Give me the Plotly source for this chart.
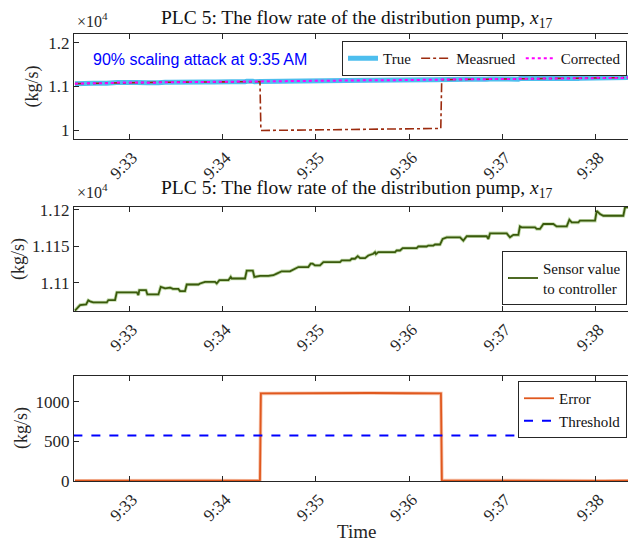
import pandas as pd
import plotly.graph_objects as go

# The page body has an 8px default margin, so the figure starts at screen (8, 8).
OFF = 8
FW, FH = 640, 534
BASE = pd.Timestamp("2021-01-01 09:32:00")

# ---- data (seconds after 9:32:00, values in kg/s) ----
sensor_t = [25, 26.6, 28.3, 32.2, 33.6, 35.2, 36.8, 45.5, 46.5, 50.8, 51.9, 64.8, 65.8, 66.4, 70.7,
            71.6, 78.7, 80.2, 83.0, 86.2, 88.0, 91.5, 92.6, 95.8, 96.9, 104.4, 105.5, 108.7, 115.1,
            116.2, 117.9, 123.7, 125.2, 125.8, 134.4, 135.5, 139.4, 140.4, 144.1, 149.4, 152.6,
            154.8, 158.0, 163.3, 165.5, 168.7, 175.1, 176.6, 177.9, 179.4, 182.6, 184.8, 195.5,
            196.6, 201.9, 203.0, 205.1, 206.9, 208.4, 211.6, 213.7, 216.9, 218.0, 218.6, 220.1,
            230.9, 231.9, 234.1, 235.8, 244.8, 245.9, 251.2, 252.3, 255.5, 256.6, 259.8, 261.5,
            264.1, 272.7, 274.8, 277.0, 289.8, 290.9, 292.0, 302.7, 304.8, 307.0, 310.2, 311.2,
            312.3, 320.9, 322.0, 324.1, 326.3, 332.7, 334.8, 341.3, 343.0, 344.5, 348.8, 349.8,
            359.5, 360.6, 362.7, 364.8, 377.7, 378.8, 387.0]
sensor_v = [11062, 11065.2, 11069.7, 11070.6, 11076.1, 11074.2, 11073.3, 11073.3, 11076.5, 11076.5,
            11087.0, 11087.0, 11083.3, 11090.1, 11090.1, 11084.2, 11084.2, 11094.6, 11092.5,
            11093.5, 11091.8, 11091.8, 11088.7, 11088.7, 11097.8, 11097.8, 11099.2, 11101.4,
            11101.4, 11099.2, 11103.7, 11103.7, 11108.2, 11106.0, 11106.0, 11116.8, 11116.8,
            11108.2, 11109.5, 11109.5, 11110.5, 11112.7, 11115.9, 11115.9, 11118.6, 11121.7,
            11121.7, 11126.3, 11126.3, 11124.0, 11124.0, 11128.5, 11128.5, 11130.8, 11130.8,
            11133.1, 11133.1, 11136.7, 11134.0, 11134.0, 11137.6, 11139.9, 11142.1, 11139.4,
            11142.1, 11142.1, 11144.4, 11144.4, 11147.6, 11147.6, 11149.9, 11149.9, 11151.2,
            11151.2, 11152.6, 11152.6, 11160.3, 11162.5, 11162.5, 11158.0, 11163.9, 11163.9,
            11160.3, 11167.9, 11167.9, 11162.5, 11165.8, 11165.8, 11177.4, 11176.1, 11176.1,
            11173.9, 11173.9, 11180.7, 11180.7, 11177.4, 11177.4, 11186.5, 11182.9, 11182.9,
            11185.2, 11185.2, 11198.8, 11194.3, 11192.0, 11192.0, 11203.5, 11203.5]

measured_t = [25, 80, 144.0, 144.6, 200, 260.3, 260.9, 330, 387.0]
measured_v = [11062, 11094, 11108, 9990, 10012, 10036, 11153, 11180, 11204]

error_t = [25, 50, 80, 110, 143.5, 144.0, 144.6, 165, 190, 215, 240, 259.8, 260.4, 261.0, 290, 330, 365, 387.0]
error_v = [3, 6, 2, 5, 4, 10, 1108, 1112, 1109, 1113, 1110, 1111, 1108, 8, 4, 6, 2, 5]

threshold_t = [24, 387]
threshold_v = [576, 576]

tick_minutes = [33, 34, 35, 36, 37, 38]
tick_labels = ["9:33", "9:34", "9:35", "9:36", "9:37", "9:38"]


def tx(ts):
    return [BASE + pd.Timedelta(seconds=s) for s in ts]


def px(X):  # screen x -> paper fraction
    return (X - OFF) / FW


def py(Y):  # screen y -> paper fraction
    return 1 - (Y - OFF) / FH


SERIF = "Liberation Serif"
AX = "#262626"

fig = go.Figure()

# Panel 1
fig.add_trace(go.Scatter(x=tx(sensor_t), y=sensor_v, mode="lines", name="True",
                         line=dict(color="#4DBEEE", width=5), xaxis="x", yaxis="y", legend="legend"))
fig.add_trace(go.Scatter(x=tx(measured_t), y=measured_v, mode="lines", name="Measrued",
                         line=dict(color="#9C2B0E", width=1.6, dash="dashdot"), xaxis="x", yaxis="y",
                         legend="legend"))
fig.add_trace(go.Scatter(x=tx(sensor_t), y=sensor_v, mode="lines", name="Corrected",
                         line=dict(color="#FF00FF", width=2, dash="dot"), xaxis="x", yaxis="y", legend="legend"))

# Panel 2
fig.add_trace(go.Scatter(x=tx(sensor_t), y=sensor_v, mode="lines", showlegend=False, hoverinfo="skip",
                         line=dict(color="#C4DCAE", width=3.5), xaxis="x2", yaxis="y2"))
fig.add_trace(go.Scatter(x=tx(sensor_t), y=sensor_v, mode="lines", name="Sensor value<br>to controller",
                         line=dict(color="#3A5A0C", width=1.8), xaxis="x2", yaxis="y2", legend="legend2"))

# Panel 3
fig.add_trace(go.Scatter(x=tx(error_t), y=error_v, mode="lines", showlegend=False, hoverinfo="skip",
                         line=dict(color="#F6C2AA", width=3.5), xaxis="x3", yaxis="y3"))
fig.add_trace(go.Scatter(x=tx(error_t), y=error_v, mode="lines", name="Error",
                         line=dict(color="#E0581E", width=1.8), xaxis="x3", yaxis="y3", legend="legend3"))
fig.add_trace(go.Scatter(x=tx(threshold_t), y=threshold_v, mode="lines", name="Threshold",
                         line=dict(color="#0000FF", width=2, dash="dash"), xaxis="x3", yaxis="y3",
                         legend="legend3"))

xrange = [BASE + pd.Timedelta(seconds=24.4), BASE + pd.Timedelta(seconds=386.5)]
tickvals_x = [BASE + pd.Timedelta(minutes=m - 32) for m in tick_minutes]


def xaxis(anchor):
    return dict(domain=[px(74), px(637)], range=xrange, anchor=anchor, tickvals=tickvals_x,
                ticktext=tick_labels, tickangle=-45, ticks="inside", ticklen=5, tickcolor=AX,
                showline=True, linecolor=AX, linewidth=1, mirror="ticks", showgrid=False, zeroline=False,
                automargin=False, ticklabelstandoff=1, ticklabelshift=3,
                tickfont=dict(family=SERIF, size=17, color=AX))


def yaxis(anchor, top, bottom, rng, tv, tt):
    return dict(domain=[py(bottom), py(top)], range=rng, anchor=anchor, tickvals=tv, ticktext=tt,
                ticks="inside", ticklen=5, tickcolor=AX, showline=True, linecolor=AX, linewidth=1,
                mirror="ticks", showgrid=False, zeroline=False, automargin=False,
                tickfont=dict(family=SERIF, size=17, color=AX))


legend_common = dict(bgcolor="white", bordercolor=AX, borderwidth=1,
                     font=dict(family=SERIF, size=15, color="#111111"), xanchor="right", yanchor="top",
                     itemwidth=30)

fig.update_layout(
    template="none",
    width=FW, height=FH, margin=dict(l=0, r=0, t=0, b=0, pad=0, autoexpand=False),
    paper_bgcolor="white", plot_bgcolor="white",
    xaxis=xaxis("y"), xaxis2=xaxis("y2"), xaxis3=xaxis("y3"),
    yaxis=yaxis("x", 34, 139, [9795, 12199], [10000, 11000, 12000], ["1", "1.1", "1.2"]),
    yaxis2=yaxis("x2", 207, 311, [11061.5, 11204], [11100, 11150, 11200], ["1.11", "1.115", "1.12"]),
    yaxis3=yaxis("x3", 376, 481, [0, 1328], [0, 500, 1000], ["0", "500", "1000"]),
    legend=dict(legend_common, x=px(627), y=py(41), orientation="h", tracegroupgap=0),
    legend2=dict(legend_common, x=px(627), y=py(251)),
    legend3=dict(legend_common, x=px(627), y=py(381), tracegroupgap=0),
    showlegend=True,
)

ann = []
for yc in (19, 189):
    ann.append(dict(text="PLC 5: The flow rate of the distribution pump, <i>x</i><sub>17</sub>",
                    x=px(356), y=py(yc), xref="paper", yref="paper", showarrow=False,
                    xanchor="center", yanchor="middle", font=dict(family=SERIF, size=19.5, color="#111111")))
for yc in (20, 191):
    ann.append(dict(text="×10<sup>4</sup>", x=px(75), y=py(yc), xref="paper", yref="paper",
                    showarrow=False, xanchor="left", yanchor="middle",
                    font=dict(family=SERIF, size=16, color=AX)))
for (xc, yc) in ((32, 86.5), (19, 259), (21, 428)):
    ann.append(dict(text="(kg/s)", x=px(xc), y=py(yc), xref="paper", yref="paper", showarrow=False,
                    textangle=-90, xanchor="center", yanchor="middle",
                    font=dict(family=SERIF, size=18, color=AX)))
ann.append(dict(text="Time", x=px(356), y=py(531), xref="paper", yref="paper", showarrow=False,
                xanchor="center", yanchor="middle", font=dict(family=SERIF, size=19, color=AX)))
ann.append(dict(text="90% scaling attack at 9:35 AM", x=px(91), y=py(59), xref="paper", yref="paper",
                showarrow=False, xanchor="left", yanchor="middle",
                font=dict(family="Liberation Sans", size=16, color="#0000FF")))
fig.update_layout(annotations=ann)

fig.write_html("out.html")
